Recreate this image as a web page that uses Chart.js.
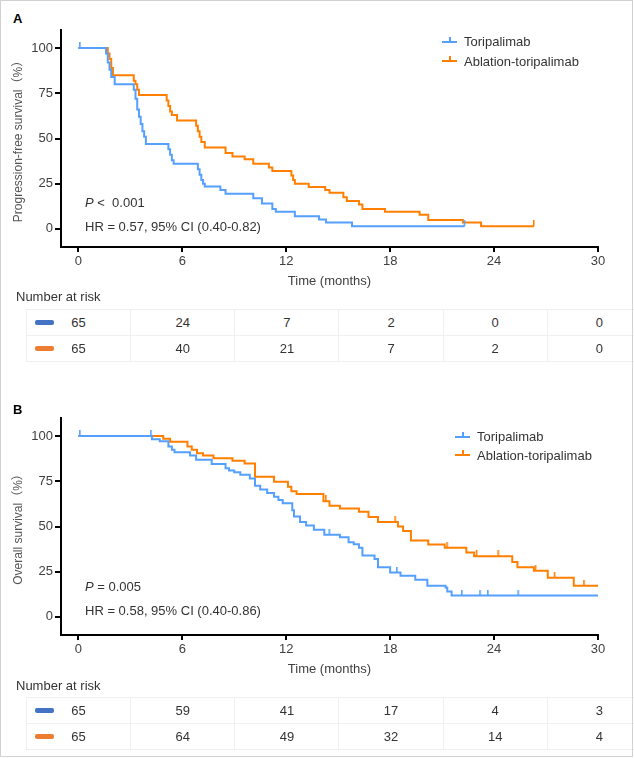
<!DOCTYPE html>
<html>
<head>
<meta charset="utf-8">
<script src="https://cdn.jsdelivr.net/npm/chart.js@4.4.1/dist/chart.umd.min.js"></script>
<style>
  body { margin: 0; background: #fff; font-family: "Liberation Sans", Arial, "Noto Sans CJK SC", sans-serif; }
  #page { position: relative; width: 634px; height: 758px; overflow: hidden; }
  #frame { position: absolute; left: 0; top: 0; width: 633px; height: 757px; box-sizing: border-box; border: 1px solid #d2d2d2; pointer-events: none; }
  .panel { position: absolute; left: 0; }
  .lbl { position: absolute; font-weight: bold; font-size: 13px; color: #000; line-height: 16px; }
  .note { position: absolute; font-size: 13px; color: #333; white-space: nowrap; line-height: 16px; }
  .legend { position: absolute; font-size: 13px; color: #333; }
  .legend div { white-space: nowrap; }
  .glyph { display: inline-block; position: relative; width: 15px; height: 2px; vertical-align: middle; margin-right: 7px; top: -1px; }
  .glyph::after { content: ''; position: absolute; left: 7px; top: -4px; width: 1.5px; height: 4px; background: inherit; }
  .risk-title { position: absolute; left: 16px; font-size: 13px; color: #333; line-height: 16px; }
  table.risk { position: absolute; left: 26px; width: 626px; border-collapse: collapse; font-size: 13px; color: #333; table-layout: fixed; }
  table.risk td { height: 25px; text-align: center; border: 1px solid #f0f0f0; padding: 0; position: relative; }
  .swatch { position: absolute; left: 8px; top: 10px; width: 19px; height: 5px; border-radius: 2px; }
</style>
</head>
<body>
<div id="page">
  <div class="lbl" style="left:13px; top:11px;">A</div>
  <div class="panel" style="top:0px;"><canvas id="pfs" width="634" height="300"></canvas></div>
  <div class="note" style="left:85px; top:195px;"><i>P</i> &lt;&nbsp; 0.001</div>
  <div class="note" style="left:85px; top:219px;">HR = 0.57, 95% CI (0.40-0.82)</div>
  <div class="legend" id="legA" style="left:442px; top:32px;"></div>
  <div class="risk-title" style="top:289px;">Number at risk</div>
  <table class="risk" id="riskA" style="top:309px;"></table>

  <div class="lbl" style="left:13px; top:402px;">B</div>
  <div class="panel" style="top:388px;"><canvas id="os" width="634" height="300"></canvas></div>
  <div class="note" style="left:85px; top:579px;"><i>P</i> = 0.005</div>
  <div class="note" style="left:85px; top:603px;">HR = 0.58, 95% CI (0.40-0.86)</div>
  <div class="legend" id="legB" style="left:455px; top:428px;"></div>
  <div class="risk-title" style="top:678px;">Number at risk</div>
  <table class="risk" id="riskB" style="top:697px;"></table>
  <div id="frame"></div>
</div>
<script>
const groups = ['Toripalimab', 'Ablation-toripalimab'];
const riskTimes = [0, 6, 12, 18, 24, 30];
const survTicks = [0, 25, 50, 75, 100];

// progression-free survival (months, %)
const pfsToriTime = [0, 1.6, 1.7, 1.8, 1.9, 2.1, 3.2, 3.3, 3.4, 3.5, 3.6, 3.7, 3.8, 3.9, 5.2, 5.3, 5.4, 5.5, 6.9, 7.0, 7.1, 7.2, 7.3, 8.2, 8.5, 10.1, 10.6, 11.2, 11.4, 12.5, 13.9, 14.3, 15.8, 22.3];
const pfsToriSurv = [100, 97, 92, 88, 84, 80, 77, 72, 66, 62, 58, 54, 51, 47, 44, 41, 38, 36, 33, 30, 27, 25, 23.5, 21.5, 19.5, 17, 14, 11, 9.5, 7, 5.2, 3.5, 1.5, 1.5];
const pfsToriCensor = [0.1, 22.3];
const pfsAblTime = [0, 1.7, 1.8, 1.9, 2.0, 3.2, 3.3, 3.4, 3.5, 5.1, 5.2, 5.3, 5.4, 5.7, 6.8, 6.9, 7.0, 7.1, 7.3, 8.5, 8.9, 9.6, 10.1, 11.0, 11.2, 12.3, 12.4, 12.5, 13.3, 14.25, 14.5, 15.3, 15.5, 16.2, 16.4, 17.7, 19.7, 20.2, 22.2, 23.25, 26.3];
const pfsAblSurv = [100, 97, 94, 89, 85, 82, 80, 77, 74, 71, 68, 65, 63, 60, 57, 54, 51, 48, 45, 42, 40, 38.5, 36, 34, 32, 29.5, 27, 25, 23.2, 21.5, 20, 17.5, 15.5, 13.5, 11, 9.5, 7.8, 5, 3.5, 1.5, 1.5];
const pfsAblCensor = [26.3];
const pfsRiskTori = [65, 24, 7, 2, 0, 0];
const pfsRiskAbl = [65, 40, 21, 7, 2, 0];

// overall survival (months, %)
const osToriTime = [0, 4.25, 4.7, 5.2, 5.4, 5.55, 6.45, 6.8, 7.7, 8.5, 8.7, 9.0, 9.35, 9.9, 10.2, 10.5, 10.9, 11.3, 11.55, 11.8, 12.35, 12.45, 12.8, 13.15, 13.6, 14.2, 15.1, 15.6, 15.9, 16.2, 16.4, 17.1, 17.3, 18.0, 18.6, 19.45, 20.15, 21.2, 21.3, 21.55, 30];
const osToriSurv = [100, 98.3, 97.2, 94.3, 92.5, 91, 89.3, 86.9, 84.6, 82.2, 80.9, 80, 78.6, 76.5, 72.5, 70.5, 68.5, 66.5, 64.6, 62.8, 59, 55.5, 52.5, 50.5, 48.2, 45.5, 44, 41.3, 40.2, 38.3, 34, 32, 27.5, 24.5, 22.7, 20.6, 17.2, 16.2, 14, 11.8, 11.8];
const osToriCensor = [0.1, 4.2, 14.5, 18.4, 22.15, 23.2, 23.65, 25.4];
const osAblTime = [0, 4.9, 5.3, 6.3, 6.55, 6.85, 7.2, 7.8, 8.9, 9.6, 10.2, 11.3, 12.1, 12.3, 12.6, 14.15, 14.5, 15.1, 16.2, 16.75, 17.3, 18.45, 18.75, 19.2, 20.2, 21.15, 22.4, 22.85, 25.05, 25.35, 26.3, 27.1, 28.6, 30];
const osAblSurv = [100, 98.5, 96.9, 94.2, 92.4, 90.5, 89.2, 87.7, 86.4, 84.9, 77.5, 74.8, 72, 69.5, 68, 64, 61.5, 60, 58.1, 55.3, 52.5, 50, 47.5, 42.3, 40.1, 38.3, 35.6, 33.5, 30.3, 27.5, 25.5, 21.6, 17.3, 17.3];
const osAblCensor = [14.3, 18.3, 21.3, 23.0, 24.25, 26.4, 27.5, 29.2];
const osRiskTori = [65, 59, 41, 17, 4, 3];
const osRiskAbl = [65, 64, 49, 32, 14, 4];

const lineColors = ['#55a0ff', '#ff7f00'];
const swatchColors = ['#4472c4', '#ed7d31'];

Chart.defaults.font.family = '"Liberation Sans", Arial, "Noto Sans CJK SC", sans-serif';

// value of the step curve at time t
function stepAt(times, surv, t) {
  let v = surv[0];
  for (let i = 0; i < times.length; i++) {
    if (times[i] <= t) v = surv[i];
  }
  return v;
}

// small upward tick used for censored patients
function tickImage(color) {
  const c = document.createElement('canvas');
  c.width = 4;
  c.height = 12;
  const g = c.getContext('2d');
  g.fillStyle = color;
  g.fillRect(1, 0, 1.6, 6);
  return c;
}

function makeChart(id, yTitle, series) {
  const datasets = [];
  series.forEach((s, k) => {
    datasets.push({
      label: groups[k],
      data: s.time.map((t, i) => ({ x: t, y: s.surv[i] })),
      stepped: true,
      borderColor: lineColors[k],
      borderWidth: 2,
      pointRadius: 0,
      fill: false
    });
    datasets.push({
      label: groups[k] + ' censored',
      data: s.censor.map(t => ({ x: t, y: stepAt(s.time, s.surv, t) })),
      showLine: false,
      pointStyle: tickImage(lineColors[k]),
      pointRadius: 3
    });
  });

  new Chart(document.getElementById(id), {
    type: 'line',
    data: { datasets: datasets },
    options: {
      responsive: false,
      animation: false,
      layout: { padding: { top: 30, right: 36, bottom: 8, left: 0 } },
      plugins: { legend: { display: false }, tooltip: { enabled: false } },
      scales: {
        x: {
          type: 'linear',
          min: -1,
          max: 30,
          afterBuildTicks: s => { s.ticks = riskTimes.map(v => ({ value: v })); },
          afterFit: s => { s.height = 45; },
          grid: { drawOnChartArea: false, tickLength: 5, color: '#000', lineWidth: 2 },
          border: { color: '#000', width: 2 },
          ticks: { color: '#404040', font: { size: 13 }, padding: 2, maxRotation: 0, autoSkip: false },
          title: { display: true, text: 'Time (months)', color: '#404040', font: { size: 13 }, padding: { top: 0, bottom: 3 } }
        },
        y: {
          min: -10,
          max: 110,
          afterBuildTicks: s => { s.ticks = survTicks.map(v => ({ value: v })); },
          afterFit: s => { s.width = 61; },
          grid: { drawOnChartArea: false, tickLength: 6, color: '#000', lineWidth: 2 },
          border: { color: '#000', width: 2 },
          ticks: { color: '#404040', font: { size: 13 }, padding: 2 },
          title: { display: true, text: yTitle, color: '#555', font: { size: 12 }, padding: { top: 11, bottom: 0 } }
        }
      }
    }
  });
}

function makeLegend(id, rowHeight) {
  const box = document.getElementById(id);
  groups.forEach((g, k) => {
    const row = document.createElement('div');
    row.style.height = rowHeight + 'px';
    row.style.lineHeight = rowHeight + 'px';
    row.innerHTML = '<span class="glyph" style="background:' + lineColors[k] + '"></span>' + g;
    box.appendChild(row);
  });
}

function makeRisk(id, rows) {
  const table = document.getElementById(id);
  rows.forEach((vals, k) => {
    const tr = document.createElement('tr');
    vals.forEach((v, i) => {
      const td = document.createElement('td');
      td.textContent = v;
      if (i === 0) {
        const sw = document.createElement('span');
        sw.className = 'swatch';
        sw.style.background = swatchColors[k];
        td.appendChild(sw);
      }
      tr.appendChild(td);
    });
    table.appendChild(tr);
  });
}

makeChart('pfs', 'Progression-free survival（%）', [
  { time: pfsToriTime, surv: pfsToriSurv, censor: pfsToriCensor },
  { time: pfsAblTime, surv: pfsAblSurv, censor: pfsAblCensor }
]);
makeChart('os', 'Overall survival（%）', [
  { time: osToriTime, surv: osToriSurv, censor: osToriCensor },
  { time: osAblTime, surv: osAblSurv, censor: osAblCensor }
]);
makeLegend('legA', 19.5);
makeLegend('legB', 18.5);
makeRisk('riskA', [pfsRiskTori, pfsRiskAbl]);
makeRisk('riskB', [osRiskTori, osRiskAbl]);
</script>
</body>
</html>
